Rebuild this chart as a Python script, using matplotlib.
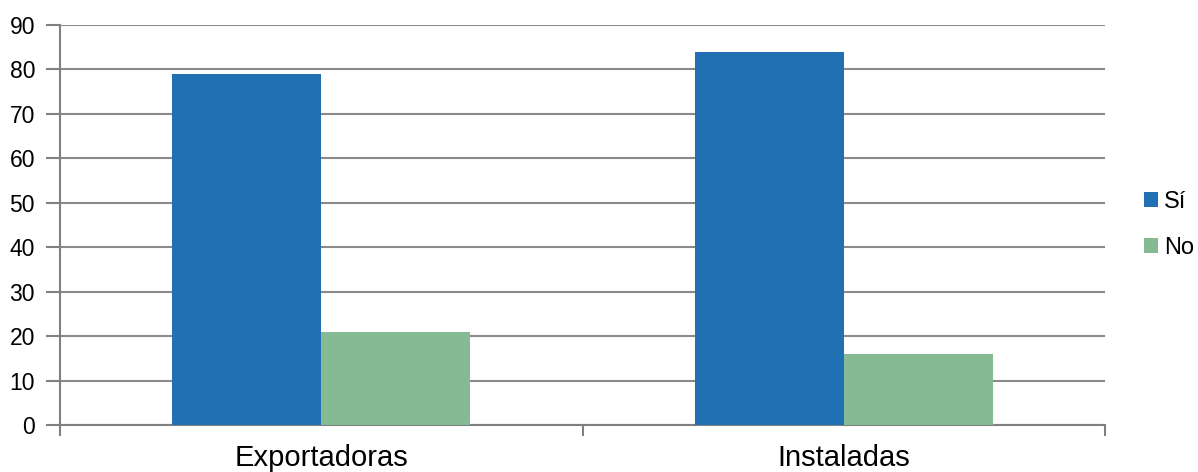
import matplotlib
matplotlib.use("Agg")
import matplotlib.pyplot as plt
import numpy as np

plt.rcParams['font.family'] = ['Liberation Sans', 'DejaVu Sans']

# datos
categorias = ["Exportadoras", "Instaladas"]
si = [79, 84]
no = [21, 16]
series = ["Sí", "No"]
colores = ["#2170b3", "#86ba92"]

fig = plt.figure(figsize=(11.98, 4.72), dpi=100)
ax = fig.add_axes([0.0501, 0.0996, 0.8723, 0.8475])

x = np.arange(len(categorias))
w = 0.285

ax.bar(x, si, width=-w, align='edge', color=colores[0], label=series[0], zorder=3)
ax.bar(x, no, width=w, align='edge', color=colores[1], label=series[1], zorder=3)

ax.set_xlim(-0.5, 1.5)
ax.set_ylim(0, 90)
ax.set_yticks(np.arange(0, 91, 10))
ax.yaxis.grid(True, color="#8a8a8a", linewidth=1.5, zorder=0)

# ticks del eje x entre categorias
ax.set_xticks([-0.5, 0.5, 1.5])
ax.set_xticklabels([])
ax.set_xticks(x, minor=True)
ax.set_xticklabels(categorias, minor=True, fontsize=21)
ax.tick_params(axis='x', which='minor', length=0, pad=14)
ax.tick_params(axis='x', which='major', length=8, width=1.5, color="#808080")
ax.tick_params(axis='y', length=10, width=1.5, color="#808080", labelsize=16.5, pad=8)

for s in ["top", "right"]:
    ax.spines[s].set_visible(False)
for s in ["left", "bottom"]:
    ax.spines[s].set_color("#808080")
    ax.spines[s].set_linewidth(1.5)

fig.legend(loc='center left', bbox_to_anchor=(1144 / 1198, (472 - 225) / 472),
           frameon=False, fontsize=17, handlelength=0.6, handleheight=0.6,
           handletextpad=0.25, labelspacing=1.0, borderaxespad=0, borderpad=0)

fig.savefig("out.png", dpi=100)
